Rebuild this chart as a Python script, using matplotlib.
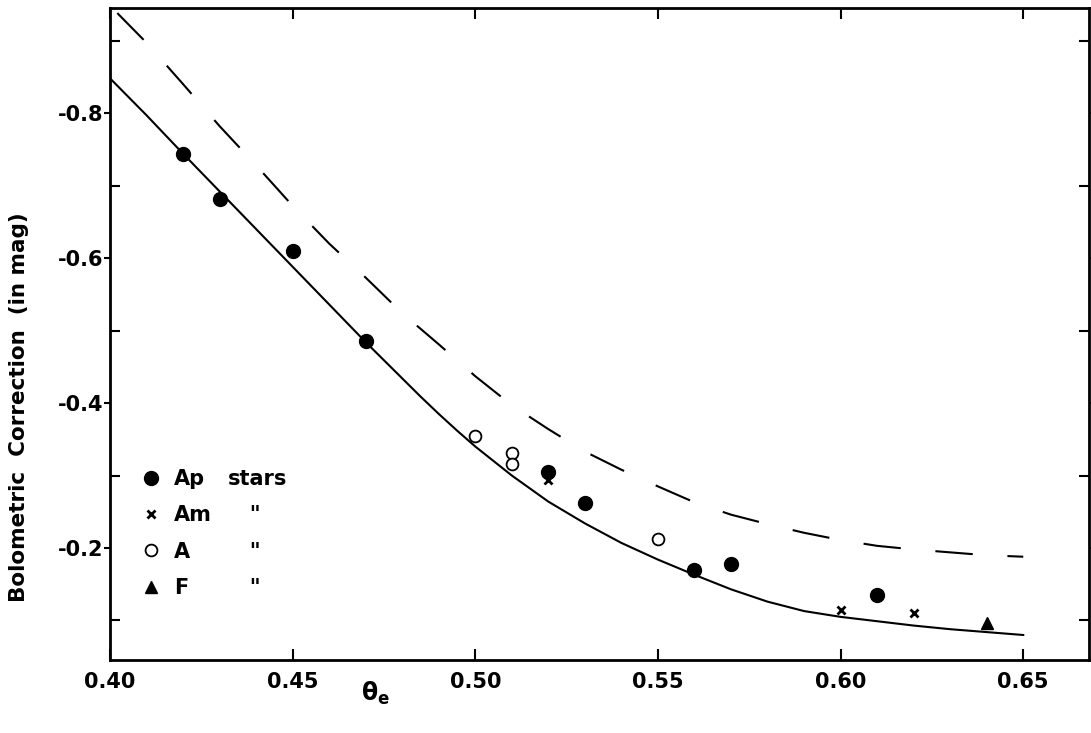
import numpy as np
import matplotlib
matplotlib.use("Agg")
import matplotlib.pyplot as plt
from matplotlib.lines import Line2D

plt.rcParams['font.family'] = ['DejaVu Sans']
plt.rcParams['font.weight'] = 'bold'
plt.rcParams['mathtext.fontset'] = 'dejavusans'
plt.rcParams['lines.scale_dashes'] = False

# solid curve
theta_solid = [0.40, 0.41, 0.42, 0.43, 0.44, 0.45, 0.46, 0.47, 0.48, 0.485, 0.49, 0.495, 0.50, 0.51, 0.52,
               0.53, 0.54, 0.55, 0.56, 0.57, 0.58, 0.59, 0.60, 0.61, 0.62, 0.63, 0.64, 0.65]
bc_solid = [-0.848, -0.797, -0.744, -0.692, -0.640, -0.588, -0.536, -0.484, -0.434, -0.409, -0.385, -0.362,
            -0.340, -0.300, -0.264, -0.234, -0.207, -0.184, -0.163, -0.143, -0.126, -0.113,
            -0.105, -0.099, -0.093, -0.088, -0.084, -0.080]

# dashed curve
theta_dash = [0.402, 0.41, 0.42, 0.43, 0.44, 0.45, 0.46, 0.47, 0.48, 0.49, 0.50, 0.51, 0.52,
              0.53, 0.54, 0.55, 0.56, 0.57, 0.58, 0.59, 0.60, 0.61, 0.62, 0.63, 0.64, 0.65]
bc_dash = [-0.938, -0.897, -0.840, -0.782, -0.728, -0.672, -0.620, -0.573, -0.524, -0.481,
           -0.437, -0.397, -0.364, -0.333, -0.308, -0.285, -0.263, -0.246, -0.233, -0.221,
           -0.211, -0.203, -0.198, -0.194, -0.190, -0.188]

# stars
ap_theta = [0.42, 0.43, 0.45, 0.47, 0.52, 0.53, 0.56, 0.57, 0.61]
ap_bc = [-0.743, -0.681, -0.610, -0.486, -0.305, -0.262, -0.169, -0.178, -0.135]
am_theta = [0.52, 0.60, 0.62]
am_bc = [-0.294, -0.115, -0.110]
a_theta = [0.50, 0.51, 0.51, 0.55]
a_bc = [-0.354, -0.331, -0.316, -0.212]
f_theta = [0.64]
f_bc = [-0.096]

fig = plt.figure(figsize=(10.91, 7.33), dpi=100)
ax = fig.add_axes([110/1091, 1-660/733, (1089-110)/1091, (660-8)/733])

ax.plot(theta_solid, bc_solid, color='black', lw=1.5)
ax.plot(theta_dash, bc_dash, color='black', lw=1.5, ls=(0, (27, 25)))

ax.plot(ap_theta, ap_bc, 'o', color='black', ms=10)
ax.plot(am_theta, am_bc, 'x', color='black', ms=6, mew=2)
ax.plot(a_theta, a_bc, 'o', mfc='white', mec='black', ms=8.5, mew=1.3)
ax.plot(f_theta, f_bc, '^', color='black', ms=8)

ax.set_xlim(0.40, 0.668)
ax.set_ylim(-0.0455, -0.945)

ax.set_xticks([0.40, 0.45, 0.50, 0.55, 0.60, 0.65])
ax.set_xticklabels(['0.40', '0.45', '0.50', '0.55', '0.60', '0.65'])
ax.set_yticks([-0.8, -0.6, -0.4, -0.2])
ax.set_yticklabels(['-0.8', '-0.6', '-0.4', '-0.2'])
ax.set_yticks([-0.9, -0.7, -0.5, -0.3, -0.1], minor=True)

ax.tick_params(axis='x', which='major', direction='in', length=8, width=1.5,
               top=True, labelsize=15, pad=9)
ax.tick_params(axis='y', which='major', direction='out', length=4, width=1.5,
               labelsize=15, pad=1)
ax.tick_params(axis='y', which='minor', direction='in', length=7, width=1.5, right=True)
ax.tick_params(axis='y', which='major', right=True)

for sp in ax.spines.values():
    sp.set_linewidth(2)

ax.set_xlabel(r'$\mathrm{\theta_e}$', fontsize=17)
ax.xaxis.set_label_coords((375-110)/979, -0.03)
ax.set_ylabel('Bolometric  Correction  (in mag)', fontsize=15.5, fontweight='bold')
ax.yaxis.set_label_coords(-0.083, (660-407)/652)

blank = Line2D([], [], ls='none')
handles = [
    Line2D([], [], ls='none', marker='o', color='black', ms=10),
    Line2D([], [], ls='none', marker='x', color='black', ms=6, mew=2),
    Line2D([], [], ls='none', marker='o', mfc='white', mec='black', ms=8.5, mew=1.3),
    Line2D([], [], ls='none', marker='^', color='black', ms=8),
    blank, blank, blank, blank,
]
labels = ['Ap', 'Am', 'A', 'F', 'stars', '   "', '   "', '   "']
ax.legend(handles, labels, ncol=2, loc='upper left', bbox_to_anchor=(0.012, 0.322),
          frameon=False, fontsize=15, handlelength=1.0, handletextpad=0.6,
          columnspacing=-0.8, labelspacing=0.79)

fig.savefig('out.png', dpi=100)
